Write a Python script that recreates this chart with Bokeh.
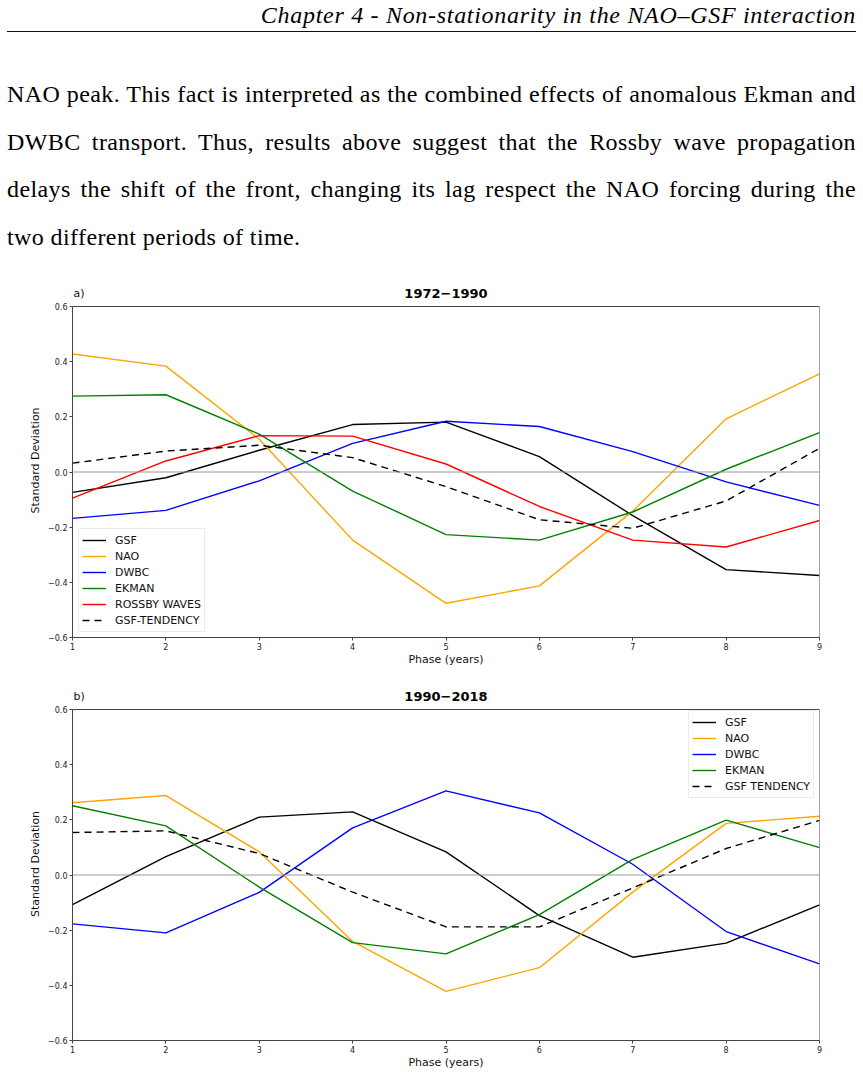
from bokeh.plotting import figure
from bokeh.models import (Div, FixedTicker, CustomJSTickFormatter, Legend, LegendItem,
                          Span, Label, BoxAnnotation)
from bokeh.layouts import column
from bokeh.embed import file_html
from bokeh.resources import INLINE

# ---------------- data ----------------
phase = [1, 2, 3, 4, 5, 6, 7, 8, 9]
y_ticks = [-0.6, -0.4, -0.2, 0.0, 0.2, 0.4, 0.6]

# panel a) 1972-1990
a_gsf = [-0.074, -0.021, 0.079, 0.172, 0.181, 0.056, -0.158, -0.354, -0.375]
a_nao = [0.428, 0.384, 0.119, -0.247, -0.476, -0.413, -0.142, 0.193, 0.356]
a_dwbc = [-0.168, -0.139, -0.032, 0.104, 0.184, 0.165, 0.074, -0.036, -0.121]
a_ekman = [0.275, 0.280, 0.137, -0.069, -0.227, -0.247, -0.145, 0.010, 0.143]
a_rossby = [-0.095, 0.040, 0.132, 0.130, 0.029, -0.125, -0.247, -0.272, -0.176]
a_tend = [0.032, 0.076, 0.097, 0.052, -0.053, -0.173, -0.204, -0.105, 0.086]

# panel b) 1990-2018
b_gsf = [-0.107, 0.067, 0.210, 0.229, 0.084, -0.147, -0.298, -0.247, -0.108]
b_nao = [0.262, 0.288, 0.084, -0.241, -0.422, -0.336, -0.062, 0.187, 0.213]
b_dwbc = [-0.177, -0.210, -0.063, 0.171, 0.305, 0.225, 0.039, -0.205, -0.322]
b_ekman = [0.251, 0.178, -0.044, -0.245, -0.286, -0.144, 0.057, 0.199, 0.099]
b_tend = [0.154, 0.160, 0.078, -0.062, -0.188, -0.188, -0.047, 0.096, 0.198]

header_text = "Chapter 4 - Non-stationarity in the NAO\u2013GSF interaction"
para_lines = [
    "NAO peak. This fact is interpreted as the combined effects of anomalous Ekman and",
    "DWBC transport. Thus, results above suggest that the Rossby wave propagation",
    "delays the shift of the front, changing its lag respect the NAO forcing during the",
    "two different periods of time.",
]

FONT = "DejaVu Sans"
PX_PER_UNIT = 275.8  # vertical pixels per data unit in both panels

# ---------------- text block ----------------
lines_html = ""
for i, ln in enumerate(para_lines):
    if i == len(para_lines) - 1:
        lines_html += f'<div style="text-align:left;white-space:nowrap;">{ln}</div>'
    else:
        lines_html += f'<div style="text-align:justify;text-align-last:justify;">{ln}</div>'

html = f"""
<div style="width:849px;margin-left:7px;font-family:'Liberation Serif',serif;color:#000;">
  <div style="text-align:right;font-style:italic;font-size:24px;letter-spacing:0.7px;line-height:30px;height:30px;">{header_text}</div>
  <div style="border-top:1.5px solid #111;margin-top:1px;"></div>
  <div style="margin-top:39px;font-size:24px;letter-spacing:0.4px;line-height:47.5px;">{lines_html}</div>
</div>
"""
div = Div(text=html, width=863, height=270, margin=0)


def make_chart(title, tag, series, legend_loc, height, top_border, top_pad, bottom):
    ymax = 0.6 + top_pad / PX_PER_UNIT
    p = figure(width=863, height=height, x_range=(1, 9), y_range=(-0.6, ymax),
               output_backend="svg", toolbar_location=None,
               min_border_left=72, min_border_right=44,
               min_border_top=top_border, min_border_bottom=bottom,
               background_fill_color="white", border_fill_color="white")
    p.grid.visible = False
    p.outline_line_color = None

    for ax in (p.xaxis[0], p.yaxis[0]):
        ax.axis_line_color = "#444444"
        ax.major_tick_line_color = "#444444"
        ax.major_tick_out = 3
        ax.major_tick_in = 0
        ax.minor_tick_line_color = None
        ax.major_label_text_font = FONT
        ax.major_label_text_font_size = "8px"
        ax.major_label_text_color = "#222222"
        ax.axis_label_text_font = FONT
        ax.axis_label_text_font_size = "11px"
        ax.axis_label_text_font_style = "normal"
        ax.axis_label_text_color = "#111111"
        ax.major_label_standoff = 2
    p.yaxis.bounds = (-0.6, 0.6)
    p.xaxis.ticker = FixedTicker(ticks=phase)
    p.yaxis.ticker = FixedTicker(ticks=y_ticks)
    p.yaxis.formatter = CustomJSTickFormatter(
        code="return tick.toFixed(1).replace('-', '\u2212');")
    p.xaxis.axis_label = "Phase (years)"
    p.yaxis.axis_label = "Standard Deviation"
    p.xaxis.axis_label_standoff = 0
    p.yaxis.axis_label_standoff = 3

    # plotting box (matplotlib-style spines)
    p.add_layout(BoxAnnotation(left=1, right=9, bottom=-0.6, top=0.6,
                               fill_alpha=0, line_color="#444444", line_alpha=1.0,
                               line_width=1))
    p.add_layout(Span(location=0, dimension="width", line_color="#999999", line_width=1.2))

    items = []
    for name, vals, color, dash in series:
        r = p.line(phase, vals, line_color=color, line_width=1.4, line_dash=dash)
        items.append(LegendItem(label=name, renderers=[r]))

    leg = Legend(items=items, location=legend_loc,
                 label_text_font=FONT, label_text_font_size="11px",
                 label_text_color="#111111",
                 glyph_width=24, glyph_height=16, label_height=16,
                 label_standoff=9, spacing=0, padding=3, margin=0,
                 border_line_color="#d8d8d8", border_line_width=1,
                 background_fill_alpha=0.9)
    p.add_layout(leg)

    # title and panel tag, drawn just above the plotting box
    p.add_layout(Label(x=5, y=0.6, text=title, y_offset=13, text_align="center",
                       text_baseline="middle", text_font=FONT, text_font_size="13px",
                       text_font_style="bold", text_color="#000000"))
    p.add_layout(Label(x=1, y=0.6, text=tag, y_offset=13, x_offset=1,
                       text_baseline="middle", text_font=FONT, text_font_size="11px",
                       text_color="#111111"))
    return p


pa = make_chart("1972\u22121990", "a)", [
    ("GSF", a_gsf, "#000000", "solid"),
    ("NAO", a_nao, "#FFA500", "solid"),
    ("DWBC", a_dwbc, "#0000FF", "solid"),
    ("EKMAN", a_ekman, "#008000", "solid"),
    ("ROSSBY WAVES", a_rossby, "#FF0000", "solid"),
    ("GSF-TENDENCY", a_tend, "#000000", "7 5"),
], (6, 5), 405, 13, 23, 38)

pb = make_chart("1990\u22122018", "b)", [
    ("GSF", b_gsf, "#000000", "solid"),
    ("NAO", b_nao, "#FFA500", "solid"),
    ("DWBC", b_dwbc, "#0000FF", "solid"),
    ("EKMAN", b_ekman, "#008000", "solid"),
    ("GSF TENDENCY", b_tend, "#000000", "7 5"),
], (616, 242), 398, 12, 22, 33)

layout = column(div, pa, pb, spacing=0)
open("out.html", "w").write(file_html(layout, INLINE))
